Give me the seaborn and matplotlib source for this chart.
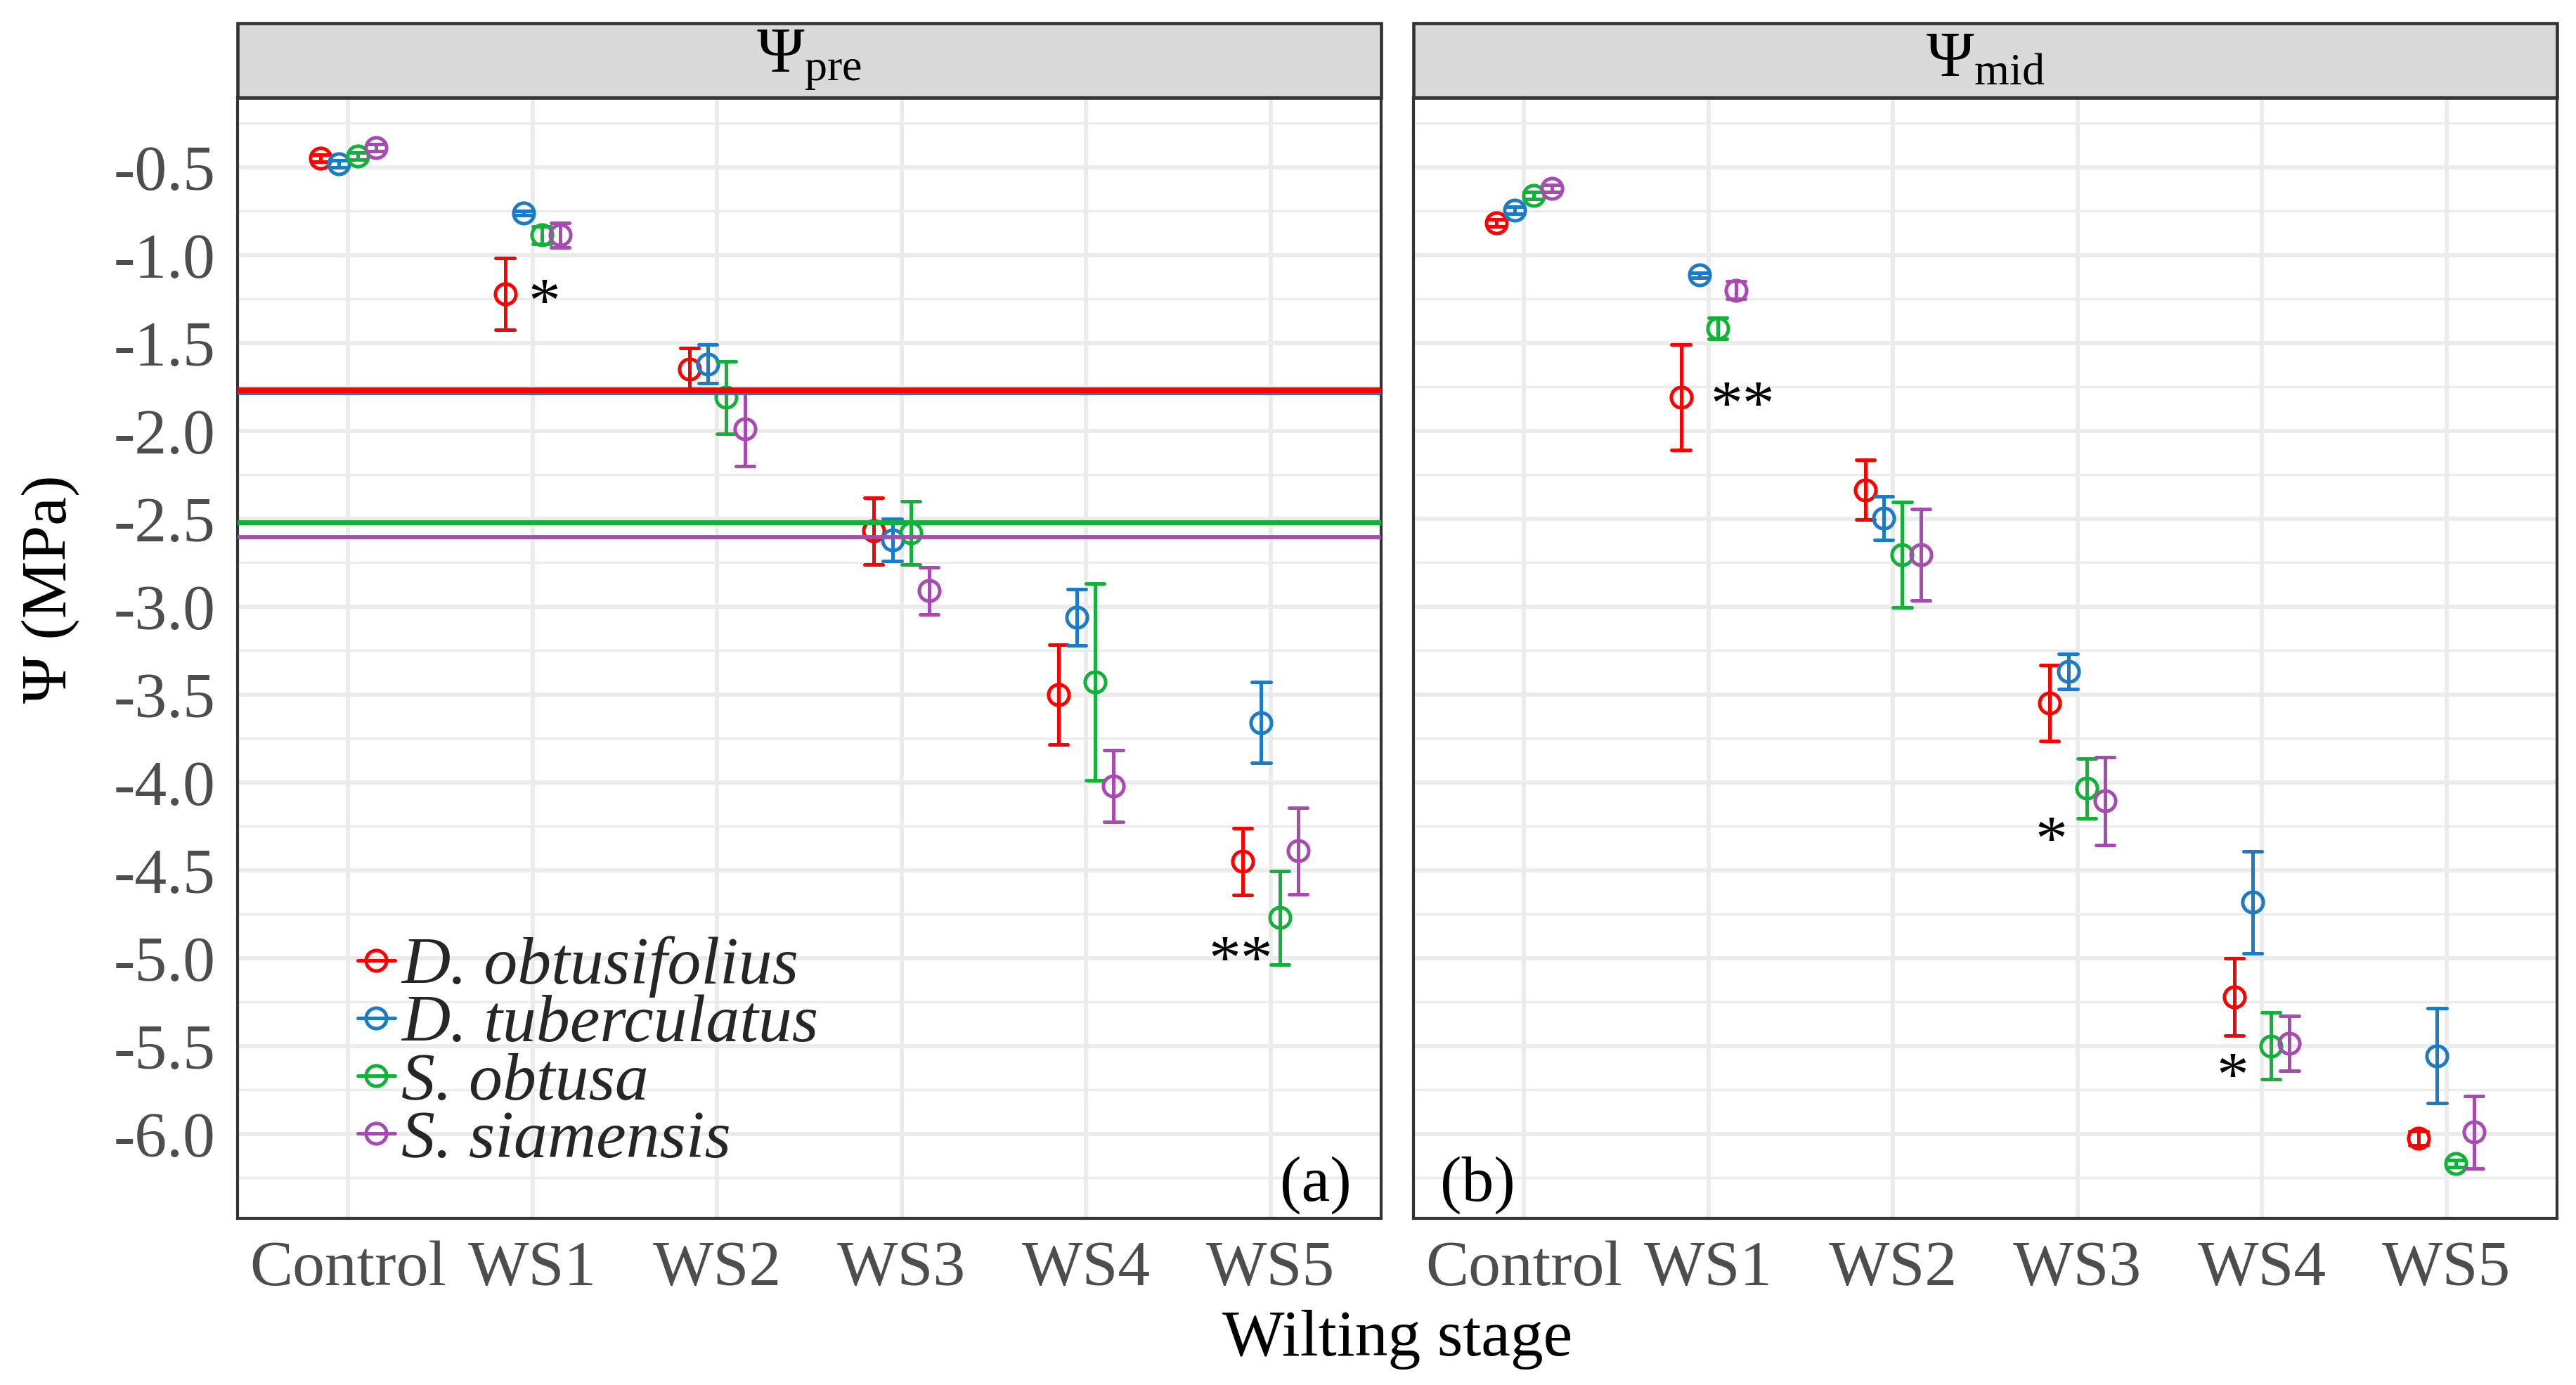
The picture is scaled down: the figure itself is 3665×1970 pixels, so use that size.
import numpy as np
import pandas as pd
import seaborn as sns
import matplotlib
matplotlib.use("Agg")
import matplotlib.pyplot as plt
from matplotlib.lines import Line2D
from matplotlib.patches import Rectangle

sns.set_theme(style="white")
plt.rcParams["font.family"] = ["Liberation Serif", "DejaVu Serif"]
plt.rcParams["mathtext.fontset"] = "custom"
plt.rcParams["mathtext.rm"] = "Liberation Serif"
plt.rcParams["mathtext.it"] = "Liberation Serif:italic"
plt.rcParams["mathtext.bf"] = "Liberation Serif:bold"
plt.rcParams["axes.unicode_minus"] = False

# ---- data ----
stages = ["Control", "WS1", "WS2", "WS3", "WS4", "WS5"]
species = ["D. obtusifolius", "D. tuberculatus", "S. obtusa", "S. siamensis"]
colors = ["#FF0000", "#1C7BC4", "#13B03A", "#A84BB0"]

# Psi_pre (mean, SE)
pre_dobt = [-0.45, -1.22, -1.65, -2.57, -3.50, -4.45]
pre_dobt_se = [0.02, 0.205, 0.12, 0.19, 0.285, 0.19]
pre_dtub = [-0.48, -0.76, -1.62, -2.62, -3.06, -3.66]
pre_dtub_se = [0.02, 0.012, 0.11, 0.12, 0.16, 0.23]
pre_sobt = [-0.435, -0.885, -1.81, -2.58, -3.43, -4.77]
pre_sobt_se = [0.02, 0.05, 0.205, 0.18, 0.56, 0.265]
pre_ssia = [-0.39, -0.885, -1.99, -2.91, -4.02, -4.39]
pre_ssia_se = [0.02, 0.07, 0.21, 0.135, 0.205, 0.245]

# Psi_mid (mean, SE)
mid_dobt = [-0.816, -1.81, -2.336, -3.548, -5.22, -6.025]
mid_dobt_se = [0.02, 0.30, 0.17, 0.215, 0.22, 0.04]
mid_dtub = [-0.745, -1.114, -2.497, -3.368, -4.682, -5.556]
mid_dtub_se = [0.02, 0.015, 0.125, 0.10, 0.29, 0.27]
mid_sobt = [-0.66, -1.418, -2.704, -4.034, -5.50, -6.17]
mid_sobt_se = [0.02, 0.06, 0.30, 0.17, 0.19, 0.02]
mid_ssia = [-0.621, -1.20, -2.704, -4.105, -5.485, -5.99]
mid_ssia_se = [0.02, 0.05, 0.26, 0.25, 0.155, 0.205]

# threshold lines (Psi_pre panel)
hline_pre = [-1.768, -1.785, -2.521, -2.605]

# significance marks
star_pre_x = [1.065, 4.84]
star_pre_y = [-1.29, -5.03]
star_pre_txt = ["*", "**"]
star_mid_x = [1.186, 2.857, 3.84]
star_mid_y = [-1.874, -4.35, -5.694]
star_mid_txt = ["**", "*", "*"]

pre = [pre_dobt, pre_dtub, pre_sobt, pre_ssia]
pre_se = [pre_dobt_se, pre_dtub_se, pre_sobt_se, pre_ssia_se]
mid = [mid_dobt, mid_dtub, mid_sobt, mid_ssia]
mid_se = [mid_dobt_se, mid_dtub_se, mid_sobt_se, mid_ssia_se]

# long table: mean -/+ SE -> pointplot mean with full range = error bar
rows = []
for panel, means, ses in (("pre", pre, pre_se), ("mid", mid, mid_se)):
    for sp, m_list, e_list in zip(species, means, ses):
        for st, m, e in zip(stages, m_list, e_list):
            rows.append({"panel": panel, "stage": st, "species": sp, "psi": m - e})
            rows.append({"panel": panel, "stage": st, "species": sp, "psi": m + e})
df = pd.DataFrame(rows)

W, H = 3665, 1970
fig = plt.figure(figsize=(W / 300, H / 300), dpi=300)
ax_l = fig.add_axes([338 / W, 1 - 1733 / H, 1627 / W, 1594 / H])
ax_r = fig.add_axes([2011 / W, 1 - 1733 / H, 1627 / W, 1594 / H])

grey = "#333333"
ms, mew, elw = 7.0, 1.2, 1.2
for ax, panel, title in ((ax_l, "pre", r"$\Psi_{\mathrm{pre}}$"),
                         (ax_r, "mid", r"$\Psi_{\mathrm{mid}}$")):
    sns.pointplot(data=df[df.panel == panel], x="stage", y="psi", hue="species",
                  order=stages, hue_order=species, palette=colors,
                  dodge=0.3, errorbar=("pi", 100), capsize=0.1,
                  linestyle="none", markers="o", markersize=ms,
                  markeredgewidth=mew, err_kws={"linewidth": elw},
                  legend=False, ax=ax)
    for ln in ax.lines:
        if ln.get_marker() == "o":
            ln.set_markerfacecolor("none")
            ln.set_markersize(ms)
            ln.set_markeredgewidth(mew)

    ax.set_xlim(-0.6, 5.6)
    ax.set_ylim(-6.48, -0.104)
    ax.set_yticks(np.arange(-6.0, -0.4, 0.5))
    ax.set_yticks(np.arange(-6.25, -0.2, 0.5), minor=True)
    ax.set_yticklabels([f"{v:.1f}" for v in np.arange(-6.0, -0.4, 0.5)])
    ax.set_axisbelow(True)
    ax.xaxis.grid(True, which="major", color="#EBEBEB", linewidth=1.4)
    ax.yaxis.grid(True, which="major", color="#EBEBEB", linewidth=1.4)
    ax.yaxis.grid(True, which="minor", color="#EBEBEB", linewidth=0.8)
    ax.set_xlabel("")
    ax.set_ylabel("")
    for sp in ax.spines.values():
        sp.set_color(grey)
        sp.set_linewidth(1.0)
    ax.tick_params(axis="both", which="major", labelsize=22, labelcolor="#4D4D4D",
                   color=grey, length=3.5, width=1.0, pad=4)
    ax.tick_params(axis="y", which="minor", left=False)

    # facet strip
    sh = 106 / 1594
    ax.add_patch(Rectangle((0, 1), 1, sh, transform=ax.transAxes, clip_on=False,
                           facecolor="#D9D9D9", edgecolor=grey, linewidth=1.1))
    ax.text(0.5, 1 + sh / 2, title, transform=ax.transAxes, ha="center",
            va="center", fontsize=22, color="black")

ax_r.tick_params(axis="y", left=False, labelleft=False)

# threshold lines, drawn over the points (blue sits under red)
hline_lw = [1.9, 1.5, 1.7, 1.4]
for i in [1, 0, 2, 3]:
    ax_l.axhline(hline_pre[i], color=colors[i], linewidth=hline_lw[i], zorder=5)

for x, y, t in zip(star_pre_x, star_pre_y, star_pre_txt):
    ax_l.text(x, y, t, ha="center", va="center", fontsize=22, color="black")
for x, y, t in zip(star_mid_x, star_mid_y, star_mid_txt):
    ax_r.text(x, y, t, ha="center", va="center", fontsize=22, color="black")

ax_l.text(0.943, 0.03, "(a)", transform=ax_l.transAxes, ha="center", va="center",
          fontsize=22, color="black")
ax_r.text(0.056, 0.03, "(b)", transform=ax_r.transAxes, ha="center", va="center",
          fontsize=22, color="black")

handles = [Line2D([], [], color=c, marker="o", markerfacecolor="none",
                  markersize=ms, markeredgewidth=mew, linewidth=elw) for c in colors]
ax_l.legend(handles, species, loc="upper left", bbox_to_anchor=(0.105, 0.252),
            frameon=False, borderpad=0, borderaxespad=0, handlelength=0.55,
            handletextpad=0.1, labelspacing=-0.05,
            prop={"family": "Liberation Serif", "style": "italic", "size": 23})

fig.text(72 / W, 1 - 838 / H, "Ψ (MPa)", rotation=90, ha="center", va="center",
         fontsize=22, color="black")
fig.text(1988 / W, 1 - 1905 / H, "Wilting stage", ha="center", va="center",
         fontsize=22.5, color="black")

fig.savefig("out.png", dpi=300)
